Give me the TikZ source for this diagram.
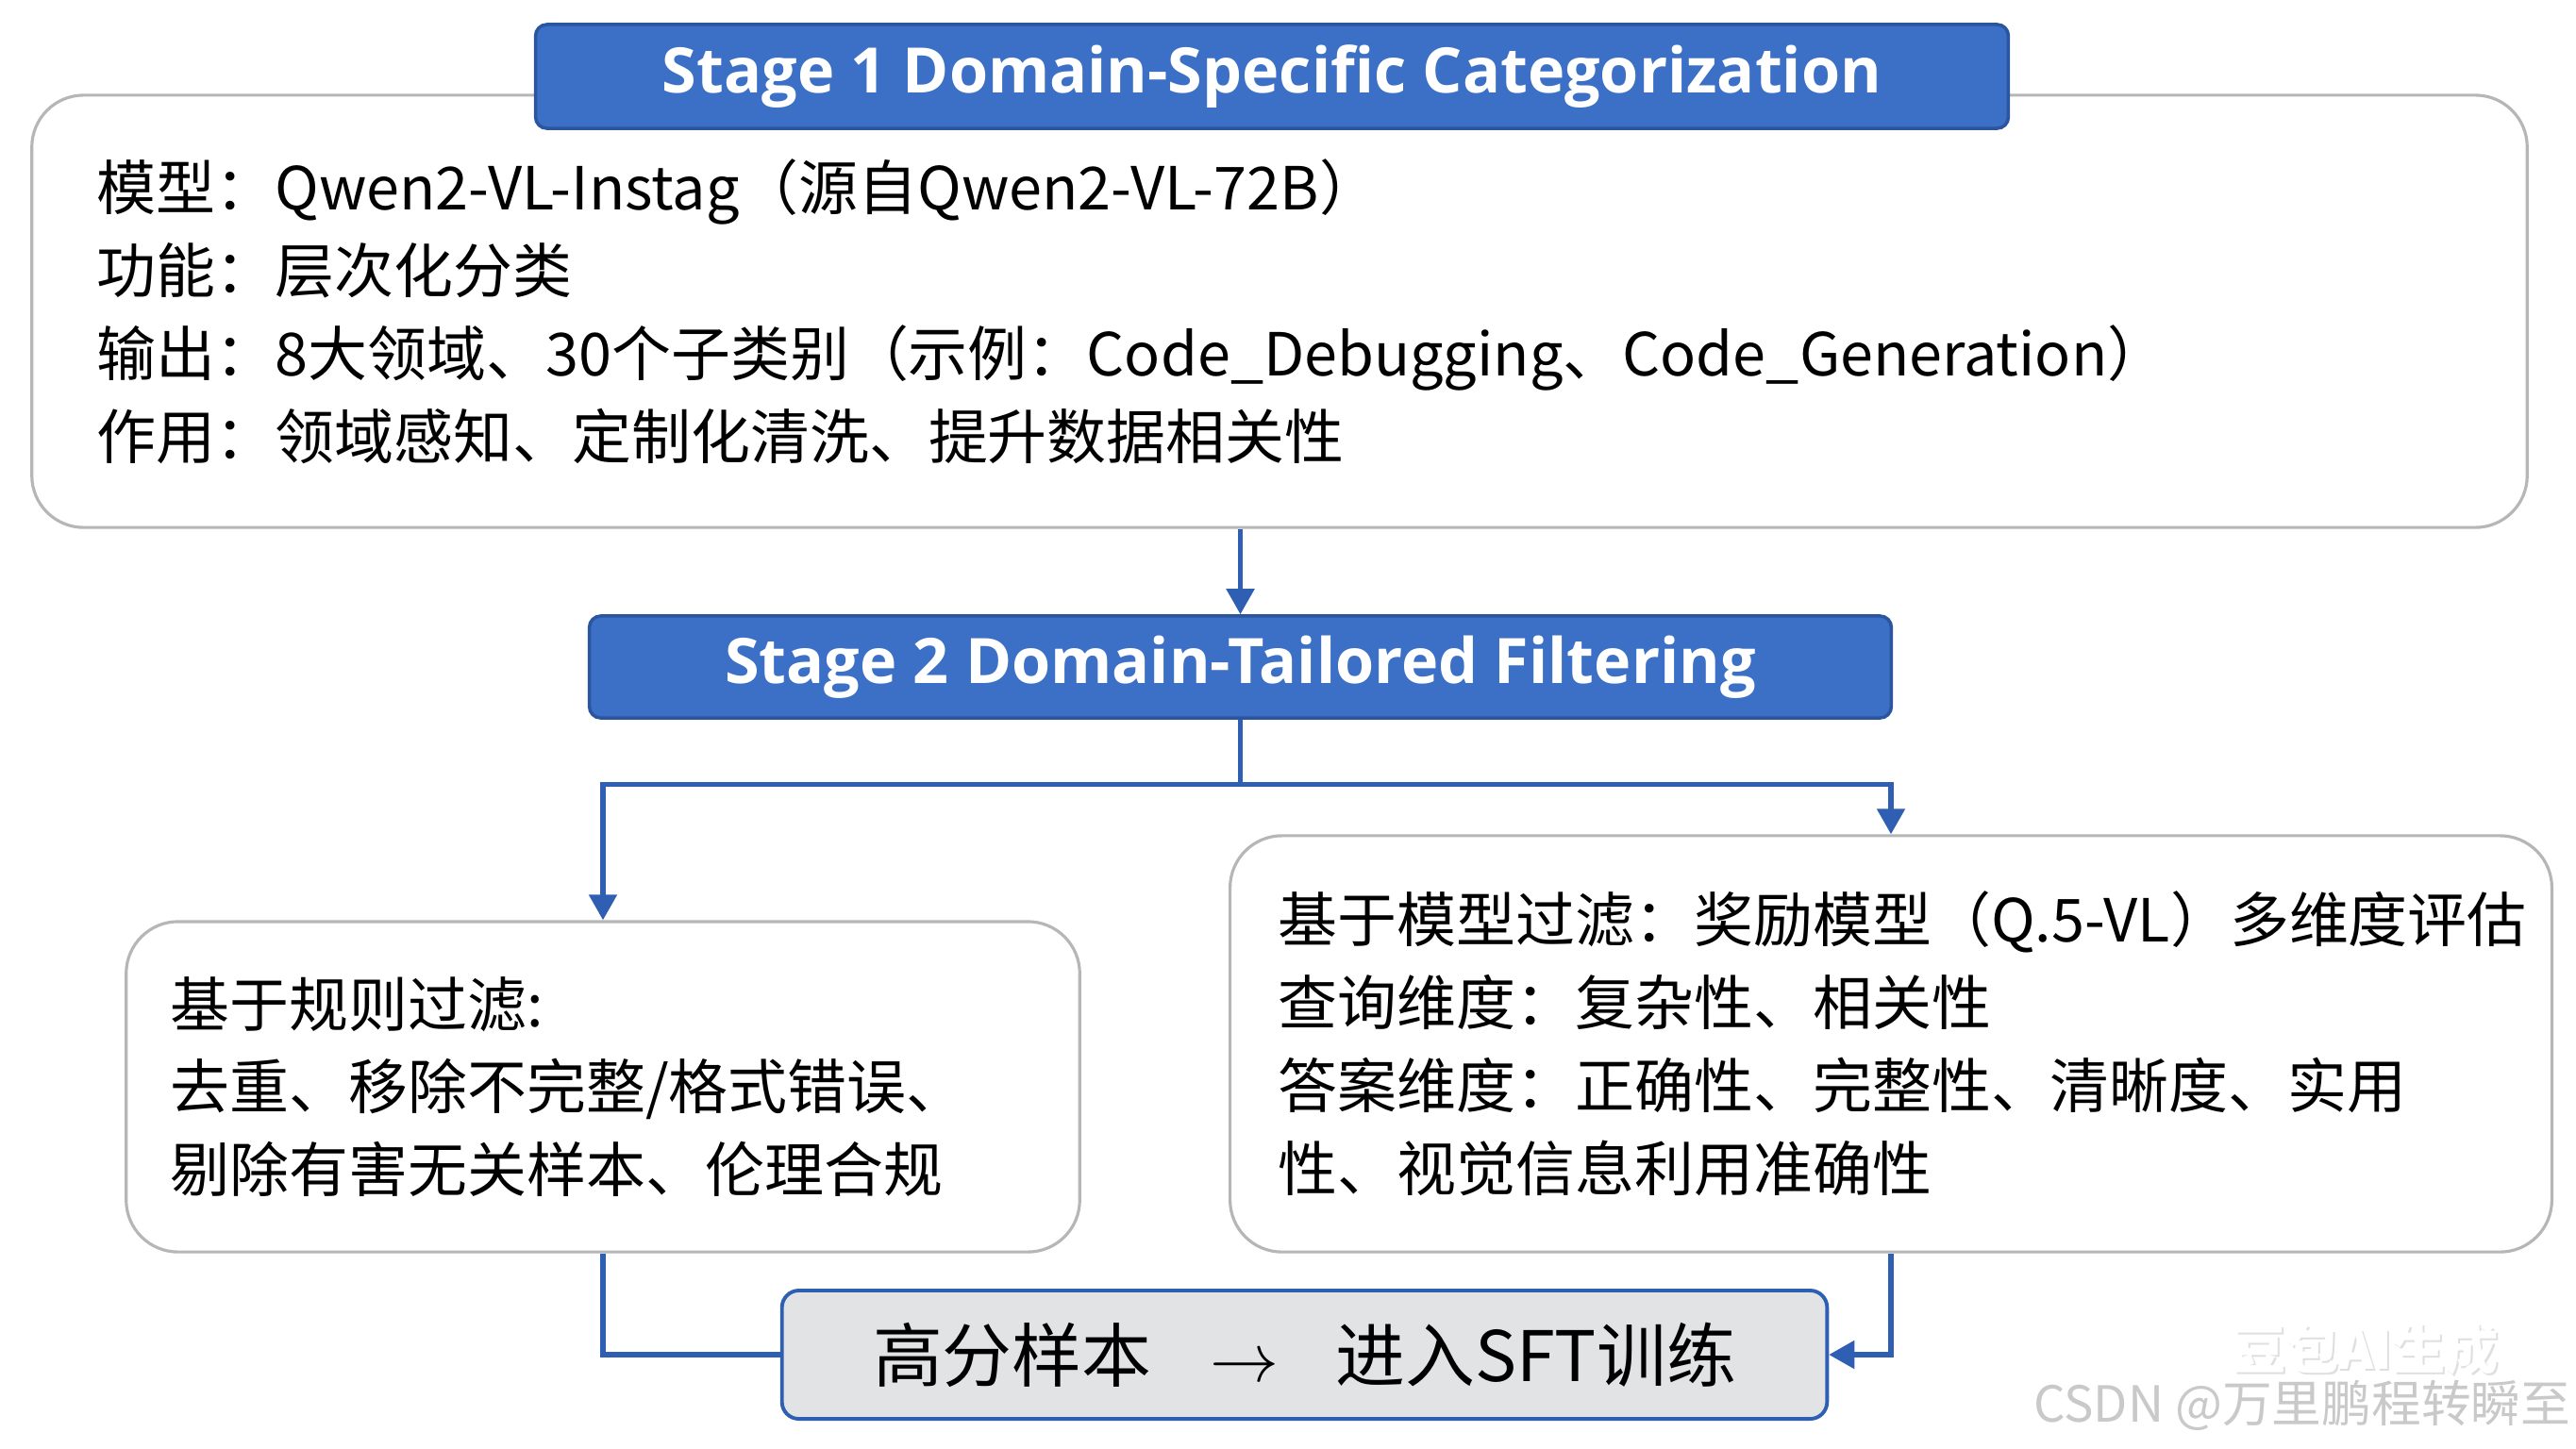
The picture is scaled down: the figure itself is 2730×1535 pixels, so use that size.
\documentclass[tikz,border=0pt]{standalone}
\usepackage{fontspec}
\setmainfont{Noto Sans CJK SC}
\newfontfamily\titlefont{Open Sans}
\usepackage{tikz}
\usetikzlibrary{arrows.meta,positioning}

\definecolor{stageblue}{HTML}{3B70C6}
\definecolor{stageedge}{HTML}{2B559E}
\definecolor{flowblue}{HTML}{2F5FB3}
\definecolor{panelgray}{HTML}{B6B6B6}
\definecolor{resultgray}{HTML}{E1E3E5}
\definecolor{markgray}{HTML}{C9C9C9}

\tikzset{
  panel/.style={draw=panelgray, line width=0.9pt, fill=white, rounded corners=0.55cm,
    align=left, inner ysep=0pt, font=\fontsize{17.9}{25}\selectfont},
  stagebar/.style={draw=stageedge, line width=1pt, fill=stageblue, rounded corners=0.12cm,
    text=white, inner sep=0pt, font=\titlefont\bfseries\fontsize{18.9}{24}\selectfont},
  resultbox/.style={draw=flowblue, line width=1.1pt, fill=resultgray, rounded corners=0.18cm,
    inner sep=0pt, font=\fontsize{21}{25}\selectfont},
  flow/.style={draw=flowblue, line width=1.5pt},
  tip/.style={-{Triangle[length=0.27cm,width=0.29cm]}}
}

\begin{document}
\begin{tikzpicture}[x=0.01cm,y=-0.01cm]
        \useasboundingbox (0,0) rectangle (2730,1535);
        %Stage 1
        \node[panel, minimum width=26.43cm, minimum height=4.58cm, text width=25.05cm, inner xsep=0.69cm]
          (catbox) at (1356,330) {模型：Qwen2-VL-Instag（源自Qwen2-VL-72B）\\
            功能：层次化分类\\
            输出：8大领域、30个子类别（示例：Code\_Debugging、Code\_Generation）\\
            作用：领域感知、定制化清洗、提升数据相关性};
        \node[stagebar, minimum width=15.6cm, minimum height=1.1cm] (stage1) at (1348,81)
          {Stage 1 Domain-Specific Categorization};
        %Stage 2
        \node[stagebar, minimum width=13.79cm, minimum height=1.08cm] (stage2) at (1314.5,707)
          {Stage 2 Domain-Tailored Filtering};
        \node[panel, minimum width=10.1cm, minimum height=3.5cm, text width=9.16cm, inner xsep=0.47cm]
          (rulebox) at (639,1152) {基于规则过滤:\\
            去重、移除不完整/格式错误、\\
            剔除有害无关样本、伦理合规};
        \node[panel, minimum width=14cm, minimum height=4.41cm, text width=12.98cm, inner xsep=0.51cm]
          (modelbox) at (2004,1106.5) {\mbox{基于模型过滤：奖励模型（Q.5-VL）多维度评估}\\
            查询维度：复杂性、相关性\\
            答案维度：正确性、完整性、清晰度、实用\\
            性、视觉信息利用准确性};
        %Result
        \node[resultbox, minimum width=11.07cm, minimum height=1.36cm] (result) at (1382.5,1436)
          {高分样本\hspace{0.62cm}$\rightarrow$\hspace{0.6cm}进入SFT训练};
        %Connectors
        \draw[flow, tip] (stage2.north |- catbox.south) -- (stage2.north);
        \draw[flow] (stage2.south) -- ++(0,69) coordinate (split);
        \draw[flow, tip] (split) -| (rulebox.north);
        \draw[flow, tip] (split) -| (modelbox.north);
        \draw[flow] (rulebox.south) |- (result.west);
        \draw[flow, tip] (modelbox.south) |- (result.east);
        %Watermark
        \node[font=\bfseries\fontsize{16}{19}\selectfont, text=markgray!60, inner sep=0pt] (markshade) at (2509,1432) {豆包AI生成};
        \node[font=\bfseries\fontsize{16}{19}\selectfont, text=white, inner sep=0pt] (mark) at (2507,1430) {豆包AI生成};
        \node[font=\fontsize{15}{18}\selectfont, text=markgray, anchor=east, inner sep=0pt] (credit) at (2725,1490) {CSDN @万里鹏程转瞬至};
\end{tikzpicture}
\end{document}
